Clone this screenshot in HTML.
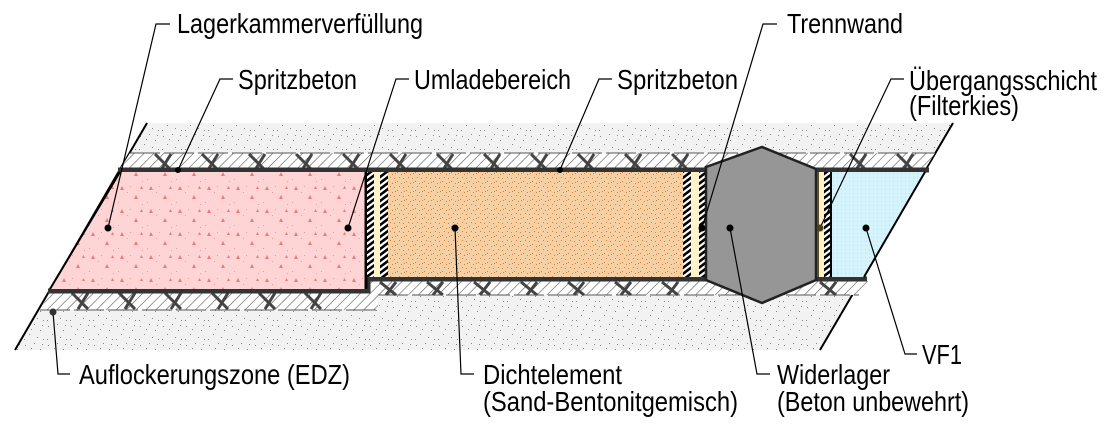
<!DOCTYPE html>
<html><head><meta charset="utf-8"><style>
html,body{margin:0;padding:0;background:#fff;width:1112px;height:430px;overflow:hidden}
svg{display:block}
text{font-family:"Liberation Sans",Arial,sans-serif;font-size:28px;fill:#000}
</style></head><body>
<svg width="1112" height="430" viewBox="0 0 1112 430" xmlns="http://www.w3.org/2000/svg">
<defs>
<pattern id="edz" width="23" height="19" patternUnits="userSpaceOnUse">
<rect width="23" height="19" fill="#f2f2f2"/>
<g fill="#888"><rect x="2" y="3" width="1" height="1"/><rect x="11" y="1" width="1" height="1"/><rect x="17" y="7" width="1" height="1"/><rect x="6" y="11" width="1" height="1"/><rect x="14" y="14" width="1" height="1"/><rect x="20" y="16" width="1" height="1"/><rect x="8" y="6" width="1" height="1"/><rect x="1" y="16" width="1" height="1"/><rect x="19" y="2" width="1" height="1"/></g>
</pattern>
<pattern id="hatch" width="7" height="7" patternUnits="userSpaceOnUse" patternTransform="rotate(45)">
<rect width="7" height="7" fill="#fff"/><line x1="0" y1="0" x2="0" y2="7" stroke="#555" stroke-width="1.2"/>
</pattern>
<pattern id="pink" width="29" height="23" patternUnits="userSpaceOnUse">
<rect width="29" height="23" fill="#ffd4d4"/>
<g fill="#f07878"><path d="M4 6l4 0l-2 -4z"/><path d="M18 15l4 0l-2 -4z"/><path d="M24 5l3 0l-1.5 -3z"/></g>
<g fill="#f39a9a"><rect x="11" y="8" width="1" height="1"/><rect x="2" y="18" width="1" height="1"/><rect x="26" y="20" width="1" height="1"/><rect x="14" y="2" width="1" height="1"/></g>
</pattern>
<pattern id="orange" width="9" height="9" patternUnits="userSpaceOnUse">
<rect width="9" height="9" fill="#f5d0a4"/>
<g fill="#d0803a"><rect x="1" y="1" width="1" height="1"/><rect x="5" y="3" width="1" height="1"/><rect x="3" y="6" width="1" height="1"/><rect x="7" y="7" width="1" height="1"/><rect x="8" y="2" width="1" height="1"/></g>
</pattern>
<pattern id="blue" width="4" height="4" patternUnits="userSpaceOnUse">
<rect width="4" height="4" fill="#d5f3fc"/><rect x="1" y="1" width="1" height="1" fill="#b9e3f0"/>
</pattern>
<pattern id="bw" width="8" height="6" patternUnits="userSpaceOnUse">
<rect width="8" height="6" fill="#fff"/><path d="M0 6L8 0" stroke="#000" stroke-width="2.6"/><path d="M-2 1.5L2 -1.5M6 7.5L10 4.5" stroke="#000" stroke-width="2.6"/>
</pattern>
</defs>

<polygon points="147,123 953,123 820,350 15,350" fill="url(#edz)"/>
<line x1="147" y1="123" x2="15" y2="350" stroke="#000" stroke-width="2"/>
<line x1="953" y1="123" x2="820" y2="350" stroke="#000" stroke-width="2"/>

<polygon points="130,153 935,153 925,169 120,169" fill="url(#hatch)"/>
<line x1="130" y1="153" x2="935" y2="153" stroke="#555" stroke-width="1" stroke-dasharray="30,4"/>
<polygon points="50,292 370,292 370,281 868,281 859,295 378,295 378,310 40,310" fill="url(#hatch)"/>
<line x1="40" y1="310" x2="378" y2="310" stroke="#555" stroke-width="1" stroke-dasharray="30,4"/>
<line x1="378" y1="295" x2="859" y2="295" stroke="#555" stroke-width="1" stroke-dasharray="30,4"/>

<g stroke="#444" stroke-width="3">
<path d="M155 154l16 16M171 154l-10 16"/><path d="M202 154l16 16M218 154l-10 16"/><path d="M249 154l16 16M265 154l-10 16"/><path d="M296 154l16 16M312 154l-10 16"/><path d="M343 154l16 16M359 154l-10 16"/><path d="M390 154l16 16M406 154l-10 16"/><path d="M437 154l16 16M453 154l-10 16"/><path d="M484 154l16 16M500 154l-10 16"/><path d="M531 154l16 16M547 154l-10 16"/><path d="M578 154l16 16M594 154l-10 16"/><path d="M625 154l16 16M641 154l-10 16"/><path d="M672 154l16 16M688 154l-10 16"/><path d="M850 154l16 16M866 154l-10 16"/><path d="M897 154l16 16M913 154l-10 16"/>
<path d="M72 293l16 16M88 293l-10 16"/><path d="M119 293l16 16M135 293l-10 16"/><path d="M165 293l16 16M181 293l-10 16"/><path d="M212 293l16 16M228 293l-10 16"/><path d="M259 293l16 16M275 293l-10 16"/><path d="M305 293l16 16M321 293l-10 16"/>
<path d="M380 282l16 13M396 282l-10 13"/><path d="M427 282l16 13M443 282l-10 13"/><path d="M474 282l16 13M490 282l-10 13"/><path d="M521 282l16 13M537 282l-10 13"/><path d="M568 282l16 13M584 282l-10 13"/><path d="M615 282l16 13M631 282l-10 13"/><path d="M662 282l16 13M678 282l-10 13"/><path d="M820 282l16 13M836 282l-10 13"/>
</g>

<line x1="118" y1="170" x2="929" y2="170" stroke="#333" stroke-width="5"/>
<path d="M48 291 L368 291 L368 279 L867 279" fill="none" stroke="#333" stroke-width="5"/>

<polygon points="120,172 366,172 366,289 50,289" fill="url(#pink)"/>
<line x1="120" y1="172" x2="50" y2="289" stroke="#000" stroke-width="2"/>
<line x1="366" y1="172" x2="366" y2="289" stroke="#000" stroke-width="3"/>
<rect x="367" y="172" width="7" height="105" fill="url(#bw)"/>
<rect x="374" y="172" width="6" height="105" fill="#fff3cc"/>
<rect x="380" y="172" width="8" height="105" fill="url(#bw)"/>
<rect x="388" y="172" width="295" height="105" fill="url(#orange)"/>
<rect x="683" y="172" width="8" height="105" fill="url(#bw)"/>
<rect x="691" y="172" width="8" height="105" fill="#fff3cc"/>
<rect x="699" y="172" width="7" height="105" fill="url(#bw)"/>
<polygon points="706,167 762,147 816,169 816,280 762,303 706,280" fill="#969696" stroke="#222" stroke-width="2.5"/>
<rect x="817" y="172" width="7" height="105" fill="#fff0c0"/>
<line x1="818" y1="172" x2="818" y2="277" stroke="#5a5030" stroke-width="2"/>
<rect x="824" y="172" width="7" height="105" fill="url(#bw)"/>
<line x1="831" y1="172" x2="831" y2="277" stroke="#000" stroke-width="2"/>
<polygon points="832,172 925,172 864,277 832,277" fill="url(#blue)"/>
<line x1="925" y1="172" x2="864" y2="277" stroke="#000" stroke-width="2"/>

<g stroke="#000" stroke-width="1.2" fill="none">
<path d="M170 24H156L108 228"/>
<path d="M233 79H220L178 170"/>
<path d="M409 79H396L348 228"/>
<path d="M612 79H599L560 170"/>
<path d="M777 24H763L702 228"/>
<path d="M904 79H891L820 228"/>
<path d="M53 312L58 374H70"/>
<path d="M455 228L461 374H474"/>
<path d="M730 228L757 374H770"/>
<path d="M866 228L905 354H917"/>
</g>
<g fill="#000">
<circle cx="108" cy="228" r="3.5"/><circle cx="178" cy="170" r="3"/><circle cx="348" cy="228" r="3.5"/><circle cx="560" cy="170" r="3"/><circle cx="702" cy="228" r="3.5"/><circle cx="820" cy="228" r="3.5" fill="#4a4020"/><circle cx="53" cy="312" r="3.5" fill="#333"/><circle cx="455" cy="228" r="3.5"/><circle cx="730" cy="228" r="3.5"/><circle cx="866" cy="228" r="3.5"/>
</g>

<text x="177" y="33" textLength="246" lengthAdjust="spacingAndGlyphs">Lagerkammerverfüllung</text>
<text x="238" y="89" textLength="119" lengthAdjust="spacingAndGlyphs">Spritzbeton</text>
<text x="414" y="89" textLength="157" lengthAdjust="spacingAndGlyphs">Umladebereich</text>
<text x="617" y="89" textLength="121" lengthAdjust="spacingAndGlyphs">Spritzbeton</text>
<text x="787" y="33" textLength="116" lengthAdjust="spacingAndGlyphs">Trennwand</text>
<text x="909" y="90" textLength="188" lengthAdjust="spacingAndGlyphs">Übergangsschicht</text>
<text x="909" y="115" textLength="110" lengthAdjust="spacingAndGlyphs">(Filterkies)</text>
<text x="79" y="384" textLength="271" lengthAdjust="spacingAndGlyphs">Auflockerungszone (EDZ)</text>
<text x="483" y="384" textLength="139" lengthAdjust="spacingAndGlyphs">Dichtelement</text>
<text x="483" y="411" textLength="255" lengthAdjust="spacingAndGlyphs">(Sand-Bentonitgemisch)</text>
<text x="777" y="384" textLength="113" lengthAdjust="spacingAndGlyphs">Widerlager</text>
<text x="777" y="411" textLength="192" lengthAdjust="spacingAndGlyphs">(Beton unbewehrt)</text>
<text x="922" y="364" textLength="40" lengthAdjust="spacingAndGlyphs">VF1</text>
</svg>
</body></html>
